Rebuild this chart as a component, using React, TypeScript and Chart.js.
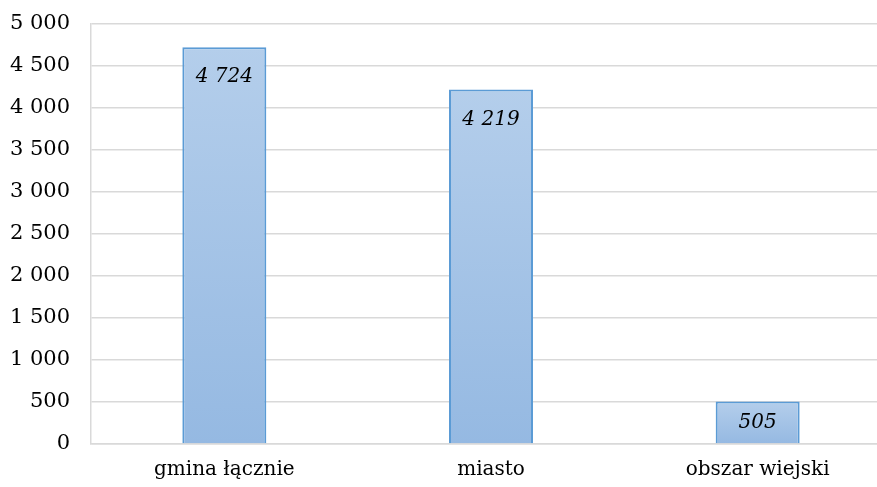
import React, { useEffect, useRef } from "react";
import { Chart, registerables } from "chart.js";

Chart.register(...registerables);

const categories = ["gmina łącznie", "miasto", "obszar wiejski"];
const values = [4724, 4219, 505];
const yMin = 0;
const yMax = 5000;
const yStep = 500;

const FONT = "'DejaVu Serif', serif";

function fmt(v: number): string {
  return String(Math.round(v)).replace(/\B(?=(\d{3})+(?!\d))/g, " ");
}

const labelPlugin = {
  id: "barLabels",
  afterDatasetsDraw(chart: any) {
    const ctx = chart.ctx;
    const meta = chart.getDatasetMeta(0);
    ctx.save();
    ctx.font = "italic 20px " + FONT;
    ctx.fillStyle = "#000";
    ctx.textAlign = "center";
    ctx.textBaseline = "middle";
    meta.data.forEach((el: any, i: number) => {
      const h = el.base - el.y;
      const off = Math.min(30, h / 2);
      ctx.fillText(fmt(values[i]), el.x, el.y + off);
    });
    ctx.restore();
  },
};

export default function App() {
  const ref = useRef<HTMLCanvasElement | null>(null);
  useEffect(() => {
    if (!ref.current) return;
    const chart = new Chart(ref.current, {
      type: "bar",
      data: {
        labels: categories,
        datasets: [
          {
            data: values,
            backgroundColor: (c: any) => {
              const ch = c.chart;
              const ys = ch.scales && ch.scales.y;
              if (!ys || c.parsed == null) return "#a3c2e6";
              const top = ys.getPixelForValue(c.parsed.y);
              const bot = ys.getPixelForValue(0);
              if (!isFinite(top) || !isFinite(bot) || top === bot) return "#a3c2e6";
              const g = ch.ctx.createLinearGradient(0, top, 0, bot);
              g.addColorStop(0, "rgb(180,206,235)");
              g.addColorStop(1, "rgb(149,185,226)");
              return g;
            },
            borderColor: "rgb(91,155,213)",
            borderWidth: 2,
            barPercentage: 0.315,
            categoryPercentage: 1,
          },
        ],
      },
      options: {
        responsive: false,
        animation: false,
        maintainAspectRatio: false,
        layout: { padding: { top: 24, right: 9, bottom: 0, left: 0 } },
        plugins: {
          legend: { display: false },
          tooltip: { enabled: false },
        },
        scales: {
          x: {
            grid: { display: false, drawTicks: false },
            border: { display: true, color: "#d9d9d9", width: 1.5 },
            ticks: {
              color: "#000",
              font: { family: FONT, size: 20 },
              padding: 14,
            },
            afterFit: (s: any) => {
              s.height = 43;
              s.paddingLeft = 0;
              s.paddingRight = 0;
            },
          },
          y: {
            min: yMin,
            max: yMax,
            grid: { color: "#d9d9d9", lineWidth: 1.5, drawTicks: false },
            border: { display: true, color: "#d9d9d9", width: 1.5 },
            ticks: {
              stepSize: yStep,
              color: "#000",
              font: { family: FONT, size: 21 },
              padding: 21,
              callback: (v: any) => fmt(Number(v)),
            },
            afterFit: (s: any) => {
              s.width = 91;
              s.paddingTop = 0;
              s.paddingBottom = 0;
            },
          },
        },
      },
      plugins: [labelPlugin],
    });
    return () => chart.destroy();
  }, []);
  return (
    <div
      style={{
        position: "fixed",
        left: 0,
        top: 0,
        width: 877,
        height: 487,
        overflow: "hidden",
        background: "#fff",
      }}
    >
      <canvas ref={ref} width={900} height={487} style={{ width: 900, height: 487, display: "block" }} />
    </div>
  );
}
